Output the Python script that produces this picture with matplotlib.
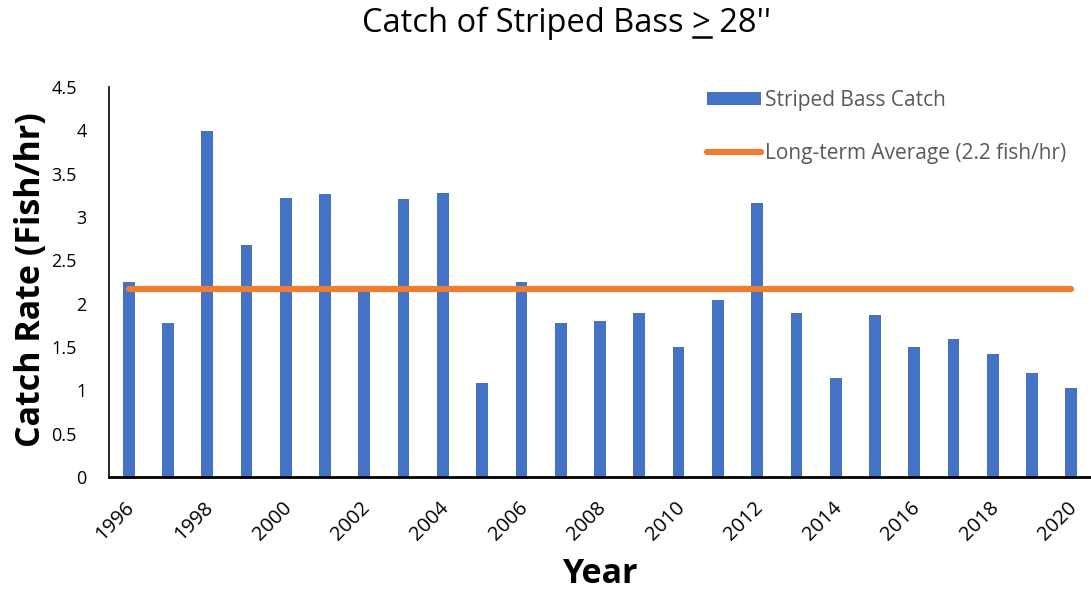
import matplotlib
matplotlib.use("Agg")
import matplotlib.pyplot as plt
import matplotlib.transforms as mtransforms
import numpy as np

years = list(range(1996, 2021))
catch = [2.25, 1.78, 3.99, 2.68, 3.22, 3.27, 2.14, 3.21, 3.28, 1.08,
         2.25, 1.78, 1.80, 1.89, 1.50, 2.04, 3.16, 1.89, 1.14, 1.87,
         1.50, 1.59, 1.42, 1.20, 1.03]
avg_value = 2.17
yticks = [0, 0.5, 1, 1.5, 2, 2.5, 3, 3.5, 4, 4.5]
ytick_labels = ["0", "0.5", "1", "1.5", "2", "2.5", "3", "3.5", "4", "4.5"]

plt.rcParams["font.family"] = ["Open Sans", "DejaVu Sans"]

fig = plt.figure(figsize=(10.91, 5.90), dpi=100)
ax = fig.add_axes([0.0999, 0.1915, 0.9001, 0.661])

x = np.arange(len(years))
bars = ax.bar(x, catch, width=0.3, color="#4472C4", label="Striped Bass Catch", zorder=2)
line, = ax.plot([x[0], x[-1]], [avg_value, avg_value], color="#ED7D31", lw=4.5,
                solid_capstyle="round", label="Long-term Average (2.2 fish/hr)", zorder=3)

ax.set_xlim(-0.5, len(years) - 0.5)
ax.set_ylim(0, 4.5)
ax.set_yticks(yticks)
ax.set_yticklabels(ytick_labels, fontsize=13)
ax.set_xticks(x[::2])
ax.set_xticklabels([str(y) for y in years[::2]], rotation=45, ha="right",
                   rotation_mode="anchor", fontsize=14.5)
ax.tick_params(length=0)
ax.tick_params(axis="y", pad=16)
ax.tick_params(axis="x", pad=15)

# Excel-style placement: decimal labels sit further left than integers
shift = mtransforms.ScaledTranslation(-10 / 100, 0, fig.dpi_scale_trans)
for lab in ax.get_yticklabels():
    if "." in lab.get_text():
        lab.set_transform(lab.get_transform() + shift)
shift_x = mtransforms.ScaledTranslation(-4 / 100, 0, fig.dpi_scale_trans)
for lab in ax.get_xticklabels():
    lab.set_transform(lab.get_transform() + shift_x)

for s in ["top", "right"]:
    ax.spines[s].set_visible(False)
ax.spines["left"].set_linewidth(1.2)
ax.spines["bottom"].set_linewidth(2)

# axis titles placed directly on the figure
fig.text(31 / 1091, 1 - 280 / 590, "Catch Rate (Fish/hr)", rotation=90,
         ha="center", va="center", fontsize=24.5, fontweight="bold")
fig.text(600 / 1091, 1 - 583 / 590, "Year", ha="center", va="baseline",
         fontsize=24.5, fontweight="bold")

leg = fig.legend([bars, line], ["Striped Bass Catch", "Long-term Average (2.2 fish/hr)"],
                 loc="upper left", bbox_to_anchor=(707 / 1091, 1 - 90 / 590),
                 bbox_transform=fig.transFigure, frameon=False, borderpad=0,
                 borderaxespad=0, fontsize=15, labelspacing=1.55, handlelength=2.6,
                 handletextpad=0.2, handleheight=0.6)
for t in leg.get_texts():
    t.set_color("#595959")

# title with an underlined ">" (drawn as text plus a short rule)
title_size = 23.5
title_y = 0.945
title = fig.text(0.519, title_y, "Catch of Striped Bass > 28''", ha="center",
                 va="baseline", fontsize=title_size)
fig.canvas.draw()
renderer = fig.canvas.get_renderer()
bb_full = title.get_window_extent(renderer)
probe_a = fig.text(0, 0, "Catch of Striped Bass", fontsize=title_size)
probe_b = fig.text(0, 0, "Catch of Striped Bass >", fontsize=title_size)
w_pre = probe_a.get_window_extent(renderer).width
w_gt = probe_b.get_window_extent(renderer).width
probe_a.remove()
probe_b.remove()
x0 = bb_full.x0 + w_pre + (w_gt - w_pre) * 0.35
x1 = bb_full.x0 + w_gt
y_base = title_y * fig.bbox.height - 5
fig.add_artist(plt.Line2D([x0 / fig.bbox.width, x1 / fig.bbox.width],
                          [y_base / fig.bbox.height] * 2, color="black", lw=1.8,
                          transform=fig.transFigure))

fig.savefig("out.png", dpi=100)
